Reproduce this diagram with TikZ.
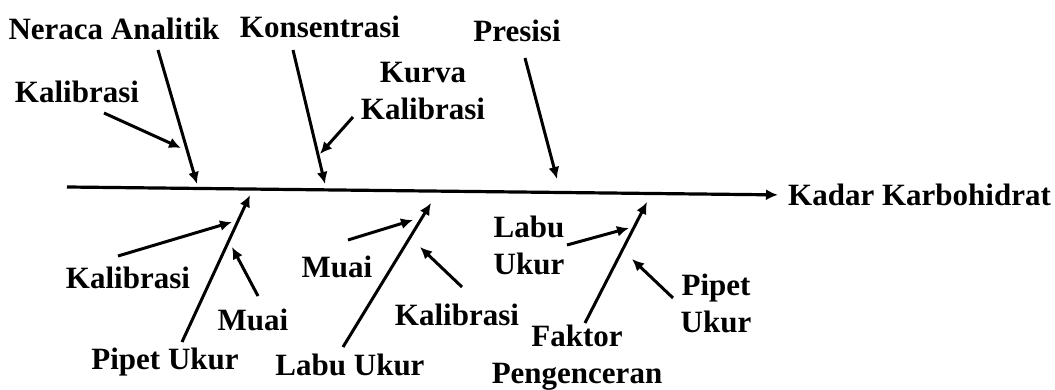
\documentclass[tikz,border=0pt]{standalone}
\usepackage{fontspec}
\setmainfont{Liberation Serif}
\usetikzlibrary{arrows.meta}
\tikzset{
  lbl/.style={font=\bfseries\fontsize{31}{37}\selectfont, inner sep=0pt, align=center},
  bone/.style={line width=3pt, -{Latex[length=12pt,width=11pt]}},
  spine/.style={line width=3.2pt, -{Latex[length=12pt,width=11pt]}}
}
\begin{document}
\begin{tikzpicture}[x=1pt,y=-1pt]
\useasboundingbox (0,0) rectangle (1055,390);

% effect
\node[lbl, anchor=west] (effect) at (788,195) {Kadar Karbohidrat};
\coordinate (tail) at (67,187);
\draw[spine, shorten >=10pt] (tail) -- (effect.west);

% upper causes
\node[lbl] (neraca) at (114,29) {Neraca Analitik};
\node[lbl] (konsentrasi) at (320,27) {Konsentrasi};
\node[lbl] (presisi) at (517,31) {Presisi};
\node[lbl] (kalA) at (77,92) {Kalibrasi};
\node[lbl] (kurva) at (423,91) {Kurva\\Kalibrasi};

\coordinate (n1) at (158,50);  \coordinate (n2) at (197,184);
\coordinate (k1) at (293,50);  \coordinate (k2) at (325,184);
\coordinate (p1) at (525,58);  \coordinate (p2) at (557,179);
\coordinate (ka1) at (104,113); \coordinate (ka2) at (181,148);
\coordinate (ku1) at (353,117); \coordinate (ku2) at (320,154);

\draw[bone] (n1) -- (n2);
\draw[bone] (k1) -- (k2);
\draw[bone] (p1) -- (p2);
\draw[bone] (ka1) -- (ka2);
\draw[bone] (ku1) -- (ku2);

% lower causes
\node[lbl] (pipet) at (165,362) {Pipet Ukur};
\node[lbl] (kalB) at (128,278) {Kalibrasi};
\node[lbl] (muaiA) at (253,320) {Muai};
\node[lbl] (labu) at (350,365) {Labu Ukur};
\node[lbl] (muaiB) at (337,267) {Muai};
\node[lbl] (kalC) at (457,315) {Kalibrasi};
\node[lbl] (faktor) at (577,358) {Faktor\\Pengenceran};
\node[lbl] (labuB) at (529,245) {Labu\\Ukur};
\node[lbl] (pipetB) at (716,303) {Pipet\\Ukur};

\coordinate (pu1) at (182,342); \coordinate (pu2) at (250,195);
\coordinate (kb1) at (118,256); \coordinate (kb2) at (232,222);
\coordinate (ma1) at (258,296); \coordinate (ma2) at (232,247);
\coordinate (lu1) at (343,347); \coordinate (lu2) at (431,203);
\coordinate (mb1) at (348,240); \coordinate (mb2) at (413,220);
\coordinate (kc1) at (462,287); \coordinate (kc2) at (420,247);
\coordinate (fp1) at (585,323); \coordinate (fp2) at (647,202);
\coordinate (lb1) at (567,245); \coordinate (lb2) at (629,228);
\coordinate (pb1) at (673,298); \coordinate (pb2) at (632,259);

\draw[bone] (pu1) -- (pu2);
\draw[bone] (kb1) -- (kb2);
\draw[bone] (ma1) -- (ma2);
\draw[bone] (lu1) -- (lu2);
\draw[bone] (mb1) -- (mb2);
\draw[bone] (kc1) -- (kc2);
\draw[bone] (fp1) -- (fp2);
\draw[bone] (lb1) -- (lb2);
\draw[bone] (pb1) -- (pb2);
\end{tikzpicture}
\end{document}
